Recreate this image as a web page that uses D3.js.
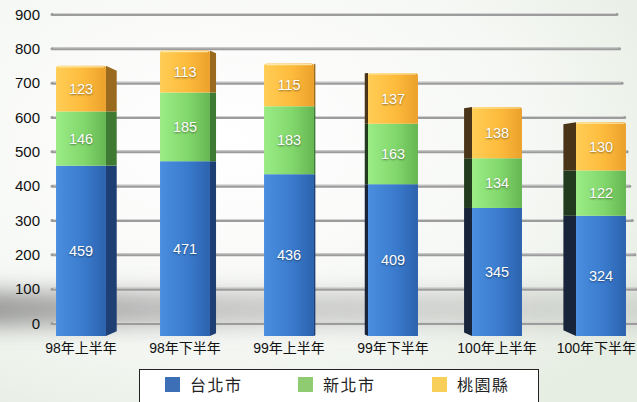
<!DOCTYPE html>
<html>
<head>
<meta charset="utf-8">
<script src="https://cdn.jsdelivr.net/npm/d3@7"></script>
<style>
  html, body { margin: 0; padding: 0; background: #fff; }
  svg { display: block; }
  .val { font-family: "Liberation Sans", Arial, sans-serif; font-size: 14.5px; fill: #fff;
         text-shadow: 0 1px 2px rgba(0,0,0,0.45); }
  .tick { font-family: "Liberation Sans", Arial, sans-serif; font-size: 15px; fill: #111; }
  .cat { font-family: "Liberation Sans", "Noto Sans CJK TC", sans-serif; font-size: 14px; fill: #111; }
  .leg { font-family: "Noto Sans CJK TC", sans-serif; font-size: 16px; fill: #222; letter-spacing: 1.5px; }
</style>
</head>
<body>
<svg id="chart" width="637" height="402"></svg>
<script>
// Half-year periods and the three regional series (stacked bottom to top)
const categories = ["98年上半年", "98年下半年", "99年上半年", "99年下半年", "100年上半年", "100年下半年"];
const taipei   = [459, 471, 436, 409, 345, 324];
const newTaipei = [146, 185, 183, 163, 134, 122];
const taoyuan  = [123, 113, 115, 137, 138, 130];
const seriesNames = ["台北市", "新北市", "桃園縣"];
const tickValues = [0, 100, 200, 300, 400, 500, 600, 700, 800, 900];

const W = 637, H = 402;
const svg = d3.select("#chart");
const defs = svg.append("defs");

// Background wash
const bg = defs.append("radialGradient").attr("id", "bg")
  .attr("cx", "35%").attr("cy", "35%").attr("r", "80%");
bg.append("stop").attr("offset", "0%").attr("stop-color", "#ffffff");
bg.append("stop").attr("offset", "60%").attr("stop-color", "#f6f8f5");
bg.append("stop").attr("offset", "100%").attr("stop-color", "#e6ede2");
svg.append("rect").attr("width", W).attr("height", H).attr("fill", "url(#bg)");

// Floor shadow under the bars
const blur = defs.append("filter").attr("id", "blur").attr("x", "-20%").attr("y", "-150%")
  .attr("width", "140%").attr("height", "400%");
blur.append("feGaussianBlur").attr("stdDeviation", 11);
const shg = defs.append("linearGradient").attr("id", "shadowGrad");
shg.append("stop").attr("offset", "0%").attr("stop-color", "#707070").attr("stop-opacity", 0.75);
shg.append("stop").attr("offset", "40%").attr("stop-color", "#8a8a8a").attr("stop-opacity", 0.45);
shg.append("stop").attr("offset", "100%").attr("stop-color", "#9a9a9a").attr("stop-opacity", 0.3);
svg.append("rect").attr("x", -40).attr("y", 292).attr("width", 700).attr("height", 34)
  .attr("fill", "url(#shadowGrad)").attr("filter", "url(#blur)");

// Scales: grid plane sits behind, bars are drawn on the nearer plane
const yGrid = d3.scaleLinear().domain([0, 900]).range([323, 14]);
const yBar = d3.scaleLinear().domain([0, 900]).range([336, 2]);
const x = d3.scaleBand().domain(categories).range([29, 653]).paddingInner(0.52).paddingOuter(0.26);
const gridEnd = d3.scaleLinear().domain([0, 900]).range([640, 617]);

// Gridlines
const grid = svg.append("g");
grid.selectAll("line.g1").data(tickValues).join("line")
  .attr("x1", 52).attr("x2", d => gridEnd(d))
  .attr("y1", d => yGrid(d) + 0.5).attr("y2", d => yGrid(d) + 0.5)
  .attr("stroke", "#9c9c9c").attr("stroke-width", 3).attr("stroke-linecap", "round");
grid.selectAll("line.g2").data(tickValues).join("line")
  .attr("x1", 53).attr("x2", d => gridEnd(d) - 1)
  .attr("y1", d => yGrid(d) - 0.5).attr("y2", d => yGrid(d) - 0.5)
  .attr("stroke", "#d2d2d2").attr("stroke-width", 1);

// Y axis tick labels
const yAxis = d3.axisLeft(yGrid).tickValues(tickValues).tickSize(0).tickPadding(0);
const ya = svg.append("g").attr("transform", "translate(40,0)").call(yAxis);
ya.select(".domain").remove();
ya.selectAll("text").attr("class", "tick").attr("font-size", null).attr("font-family", null)
  .attr("dy", "0.35em").attr("fill", "#111");

// Stacked data
const table = categories.map((c, i) => ({ cat: c, a: taipei[i], b: newTaipei[i], c: taoyuan[i] }));
const stack = d3.stack().keys(["a", "b", "c"])(table);

const front = {
  a: ["#4a8ee0", "#3a7bcd", "#2c62ad"],
  b: ["#9bec85", "#82d86c", "#65b653"],
  c: ["#ffcd55", "#fdbb3c", "#eba12c"]
};
Object.entries(front).forEach(([k, cols]) => {
  const g = defs.append("linearGradient").attr("id", "f" + k);
  g.append("stop").attr("offset", "0%").attr("stop-color", cols[0]);
  g.append("stop").attr("offset", "55%").attr("stop-color", cols[1]);
  g.append("stop").attr("offset", "100%").attr("stop-color", cols[2]);
});
const side = { a: "#1e3f74", b: "#3f7a33", c: "#9a6a1e" };
const sideDark = { a: "#17243a", b: "#223a1e", c: "#4a3418" };

const vanishX = 320;
const depth = c => (vanishX - (x(c) + x.bandwidth() / 2)) * 0.045;

const bars = svg.append("g");
stack.forEach(layer => {
  const key = layer.key;
  layer.forEach(seg => {
    const cat = seg.data.cat;
    const x0 = x(cat), bw = x.bandwidth();
    const y0 = yBar(seg[0]), y1 = yBar(seg[1]);
    const d = depth(cat);
    const isTop = key === "c";
    const isBottom = key === "a";
    // side face
    let pts;
    if (d > 0) {
      const xs = x0 + bw;
      const t = isTop ? y1 + d * 0.45 : y1;
      const b = isBottom ? y0 - d * 0.45 : y0;
      pts = [[xs, y1], [xs + d, t], [xs + d, b], [xs, y0]];
    } else {
      const dd = -d;
      const t = isTop ? y1 + dd * 0.15 : y1;
      const b = isBottom ? y0 - dd * 0.45 : y0;
      pts = [[x0, y1], [x0 - dd, t], [x0 - dd, b], [x0, y0]];
    }
    bars.append("polygon").attr("points", pts.map(p => p.join(",")).join(" "))
      .attr("fill", d > 0 ? side[key] : sideDark[key]);
    // front face (rounded top corners on the top segment)
    if (isTop) {
      const r = 3;
      bars.append("path")
        .attr("d", `M${x0},${y0} L${x0},${y1 + r} Q${x0},${y1} ${x0 + r},${y1} L${x0 + bw - r},${y1} Q${x0 + bw},${y1} ${x0 + bw},${y1 + r} L${x0 + bw},${y0} Z`)
        .attr("fill", `url(#f${key})`);
      bars.append("line").attr("x1", x0 + 2).attr("x2", x0 + bw - 2)
        .attr("y1", y1 + 1).attr("y2", y1 + 1)
        .attr("stroke", "#fff3c4").attr("stroke-width", 1.2).attr("opacity", 0.8);
    } else {
      bars.append("rect").attr("x", x0).attr("y", y1).attr("width", bw).attr("height", y0 - y1)
        .attr("fill", `url(#f${key})`);
    }
    bars.append("text").attr("class", "val")
      .attr("x", x0 + bw / 2).attr("y", (y0 + y1) / 2)
      .attr("text-anchor", "middle").attr("dy", "0.36em")
      .text(seg[1] - seg[0]);
  });
});

// Category labels, kept inside the right edge
svg.append("g").selectAll("text").data(categories).join("text")
  .attr("class", "cat")
  .attr("x", d => x(d) + x.bandwidth() / 2).attr("y", 353)
  .attr("text-anchor", "middle").text(d => d)
  .each(function () {
    const bb = this.getBBox();
    const over = bb.x + bb.width - (W - 1);
    if (over > 0) d3.select(this).attr("x", +d3.select(this).attr("x") - over);
  });

// Legend
const legendColors = ["#3c6fb6", "#8ecb71", "#f8cf58"];
const leg = svg.append("g");
leg.append("rect").attr("x", 139.5).attr("y", 369.5).attr("width", 399).attr("height", 40)
  .attr("fill", "#fff").attr("stroke", "#222").attr("stroke-width", 1);
const legX = [165, 298, 432];
seriesNames.forEach((n, i) => {
  leg.append("rect").attr("x", legX[i]).attr("y", 377).attr("width", 15).attr("height", 15)
    .attr("fill", legendColors[i]);
  leg.append("text").attr("class", "leg").attr("x", legX[i] + 25).attr("y", 391).text(n);
});
</script>
</body>
</html>
